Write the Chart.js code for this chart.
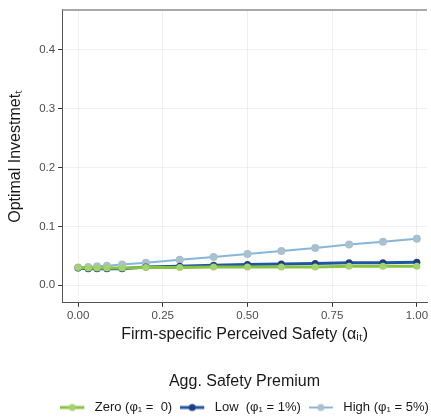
<!DOCTYPE html>
<html>
<head>
<meta charset="utf-8">
<script src="https://cdn.jsdelivr.net/npm/chart.js@4.4.1/dist/chart.umd.min.js"></script>
<style>
  html, body { margin: 0; padding: 0; background: #fff; }
  #wrap { width: 431px; height: 419px; }
</style>
</head>
<body>
<div id="wrap"><canvas id="mycanvas" width="431" height="419"></canvas></div>
<script>
// data
var alphaVals = [0, 0.03, 0.056, 0.085, 0.13, 0.2, 0.3, 0.4, 0.5, 0.6, 0.7, 0.8, 0.9, 1.0];
var zeroVals  = [0.030, 0.029, 0.029, 0.029, 0.029, 0.030, 0.030, 0.031, 0.031, 0.031, 0.031, 0.032, 0.032, 0.032];
var lowVals   = [0.029, 0.028, 0.028, 0.028, 0.028, 0.031, 0.032, 0.034, 0.035, 0.036, 0.037, 0.038, 0.038, 0.039];
var highVals  = [0.030, 0.031, 0.032, 0.033, 0.035, 0.038, 0.043, 0.048, 0.053, 0.058, 0.063, 0.069, 0.074, 0.079];
var seriesNames = ["Zero (\u03c6\u2081 =  0)", "Low  (\u03c6\u2081 = 1%)", "High (\u03c6\u2081 = 5%)"];
var yTicks = [0, 0.1, 0.2, 0.3, 0.4];
var xTicks = [0, 0.25, 0.5, 0.75, 1.0];

function pts(vals) {
	var out = [];
	for (var i in vals) {
		out.push({x: alphaVals[i], y: vals[i]});
	}
	return out;
}

// ggplot-style key: short line with a dot, blank space on the right as gap before text
function legendIcon(lineCol, ptCol, w) {
	var c = document.createElement('canvas');
	c.width = 28; c.height = 12;
	var g = c.getContext('2d');
	g.strokeStyle = lineCol; g.lineWidth = w;
	g.beginPath(); g.moveTo(0, 6); g.lineTo(24, 6); g.stroke();
	g.fillStyle = ptCol;
	g.beginPath(); g.arc(12, 6, 3.5, 0, Math.PI * 2); g.fill();
	return c;
}

var cols = [
	{line: '#86c440', pt: '#a3d26f', w: 3, r: 3.5},
	{line: '#1f55a6', pt: '#1d3f7e', w: 3, r: 3.5},
	{line: '#86b6da', pt: '#a9c0cf', w: 2, r: 4}
];
var dataSets = [zeroVals, lowVals, highVals];

var datasets = [];
for (var k = 0; k < 3; k++) {
	datasets.push({
		label: seriesNames[k],
		data: pts(dataSets[k]),
		borderColor: cols[k].line,
		backgroundColor: cols[k].pt,
		pointBackgroundColor: cols[k].pt,
		pointBorderWidth: 0,
		pointRadius: cols[k].r,
		borderWidth: cols[k].w,
		pointStyle: 'circle',
		legendIcon: legendIcon(cols[k].line, cols[k].pt, cols[k].w),
		tension: 0
	});
}

var frame = {
	id: 'frame',
	afterLayout: function(chart) {
		// centre the legend under the panel, like ggplot does
		var l = chart.legend;
		if (l) { l.left += 26; l.right += 26; }
	},
	beforeDatasetsDraw: function(chart) {
		var a = chart.chartArea, g = chart.ctx;
		g.save();
		g.strokeStyle = '#8c8c8c';
		g.lineWidth = 1.5;
		g.beginPath();
		g.moveTo(a.left, a.top); g.lineTo(a.right, a.top);
		g.stroke();
		g.restore();
	}
};

var ctx = document.getElementById('mycanvas');
var tickFont = {family: 'Liberation Sans', size: 11.5};
var titleFont = {family: 'Liberation Sans', size: 16};
var chart = new Chart(ctx, {
	type: 'line',
	data: {datasets: datasets},
	plugins: [frame],
	options: {
		responsive: false,
		animation: false,
		layout: {padding: {top: 8, right: 0, left: 6, bottom: -5}},
		plugins: {
			tooltip: {enabled: false},
			legend: {
				position: 'bottom',
				labels: {
					usePointStyle: true,
					pointStyleWidth: 28,
					color: '#1a1a1a',
					font: {family: 'Liberation Sans', size: 13},
					padding: 8,
					generateLabels: function(ch) {
						return ch.data.datasets.map(function(d, i) {
							return {text: d.label, pointStyle: d.legendIcon, datasetIndex: i,
								fillStyle: d.borderColor, strokeStyle: d.borderColor, lineWidth: 0, hidden: false};
						});
					}
				},
				title: {
					display: true,
					text: 'Agg. Safety Premium',
					color: '#1a1a1a',
					font: titleFont,
					padding: {top: 20, bottom: 0}
				}
			}
		},
		scales: {
			x: {
				type: 'linear',
				min: -0.047,
				max: 1.03,
				afterBuildTicks: function(ax) { ax.ticks = xTicks.map(function(v) { return {value: v}; }); },
				ticks: {
					color: '#4d4d4d',
					font: tickFont,
					padding: 2,
					maxRotation: 0,
					callback: function(v) { return v.toFixed(2); }
				},
				grid: {color: 'rgba(0,0,0,0.06)', tickColor: '#333', tickLength: 4},
				border: {display: true, color: '#555', width: 1},
				title: {
					display: true,
					text: 'Firm-specific Perceived Safety (\u03b1\u1d62\u209c)',
					color: '#1a1a1a',
					font: titleFont,
					padding: {top: 0, bottom: 10}
				}
			},
			y: {
				type: 'linear',
				min: -0.03,
				max: 0.468,
				afterBuildTicks: function(ax) { ax.ticks = yTicks.map(function(v) { return {value: v}; }); },
				ticks: {
					color: '#4d4d4d',
					font: tickFont,
					padding: 3,
					callback: function(v) { return v.toFixed(1); }
				},
				grid: {color: 'rgba(0,0,0,0.06)', tickColor: '#333', tickLength: 4},
				border: {display: true, color: '#555', width: 1},
				title: {
					display: true,
					text: 'Optimal Investmet\u209c',
					color: '#1a1a1a',
					font: titleFont,
					padding: {top: 0, bottom: 11}
				}
			}
		}
	}
});
</script>
</body>
</html>
